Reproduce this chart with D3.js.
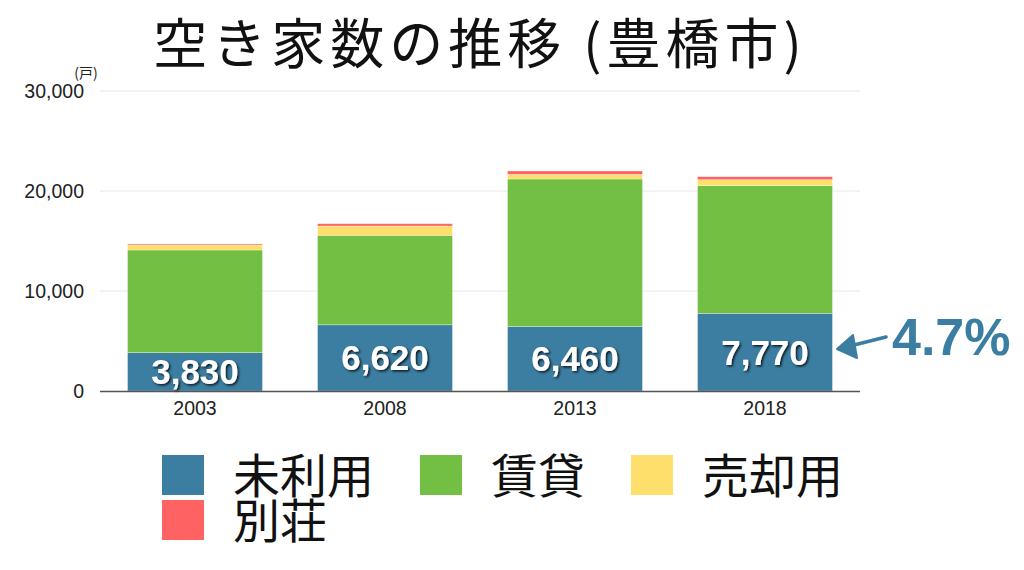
<!DOCTYPE html>
<html><head><meta charset="utf-8">
<script src="https://cdn.jsdelivr.net/npm/d3@7"></script>
<style>
body{margin:0;background:#fff;}
svg{display:block;}
</style></head><body>
<svg id="c" width="1024" height="570"></svg>
<script>
const years = ["2003","2008","2013","2018"];
const seriesNames = ["未利用","賃貸","売却用","別荘"];
const unused = [3830, 6620, 6460, 7770];
const rental = [10270, 8950, 14740, 12760];
const forSale = [500, 930, 470, 600];
const villa = [100, 230, 330, 300];
const yTicks = [0, 10000, 20000, 30000];
const colors = ["#3b7ea1","#72bf44","#ffdf6b","#ff6262"];

const svg = d3.select("#c");
const x = d3.scaleBand().domain(years).range([100,860]).paddingInner(0.29).paddingOuter(0.145);
const y = d3.scaleLinear().domain([0,30000]).range([391,91]);

const rows = years.map((yr,i)=>({year:yr, "未利用":unused[i], "賃貸":rental[i], "売却用":forSale[i], "別荘":villa[i]}));
const stack = d3.stack().keys(seriesNames)(rows);

// grid
svg.append("g").selectAll("line").data(yTicks.filter(d=>d>0)).join("line")
  .attr("x1",100).attr("x2",860).attr("y1",d=>y(d)).attr("y2",d=>y(d))
  .attr("stroke","#e6e6e6").attr("stroke-width",1);

// y labels
svg.append("g").selectAll("text").data(yTicks).join("text")
  .attr("x",84).attr("y",d=>y(d)+7).attr("text-anchor","end")
  .attr("font-family","Liberation Sans, Arial, sans-serif").attr("font-size",19.5).attr("fill","#222")
  .text(d=>d3.format(",")(d));
svg.append("text").attr("x",86).attr("y",78).attr("text-anchor","middle")
  .attr("font-family","Noto Sans CJK JP").attr("font-size",14).attr("fill","#222").text("(戸)");

// bars
svg.append("g").selectAll("g").data(stack).join("g")
  .attr("fill",(d,i)=>colors[i])
  .selectAll("rect").data(d=>d).join("rect")
  .attr("x",d=>x(d.data.year)).attr("width",x.bandwidth())
  .attr("y",d=>y(d[1])).attr("height",d=>y(d[0])-y(d[1]))
  .attr("stroke","rgba(255,255,255,0.5)").attr("stroke-width",0.6);

// baseline
svg.append("line").attr("x1",100).attr("x2",860).attr("y1",391.5).attr("y2",391.5)
  .attr("stroke","#555").attr("stroke-width",1.5);

// x labels
svg.append("g").selectAll("text").data(years).join("text")
  .attr("x",d=>x(d)+x.bandwidth()/2).attr("y",415).attr("text-anchor","middle")
  .attr("font-family","Liberation Sans, Arial, sans-serif").attr("font-size",19.5).attr("fill","#222")
  .text(d=>d);

// value labels
const defs = svg.append("defs");
const f = defs.append("filter").attr("id","sh").attr("x","-20%").attr("y","-20%").attr("width","140%").attr("height","140%");
f.append("feDropShadow").attr("dx",1.5).attr("dy",1.5).attr("stdDeviation",1).attr("flood-color","#000").attr("flood-opacity",0.8);
svg.append("g").selectAll("text").data(stack[0]).join("text")
  .attr("x",d=>x(d.data.year)+x.bandwidth()/2).attr("y",d=>(y(d[0])+y(d[1]))/2+12.5)
  .attr("text-anchor","middle").attr("font-family","Liberation Sans, Arial, sans-serif")
  .attr("font-weight","bold").attr("font-size",35).attr("fill","#fff").attr("filter","url(#sh)")
  .text(d=>d3.format(",")(d[1]-d[0]));

// title
svg.append("text").attr("x",480).attr("y",64).attr("text-anchor","middle")
  .attr("font-family","Noto Sans CJK JP").attr("font-size",54).attr("letter-spacing",5).attr("fill","#111")
  .text("空き家数の推移 (豊橋市)");

// arrow and annotation
const ag = svg.append("g").attr("stroke","#3b7ea1").attr("fill","#3b7ea1");
ag.append("line").attr("x1",886).attr("y1",337).attr("x2",850).attr("y2",346)
  .attr("stroke-width",3.5).attr("stroke-linecap","round");
ag.append("path").attr("d","M837,349 L853,335 L857,358 Z").attr("stroke-width",2).attr("stroke-linejoin","round");
svg.append("text").attr("x",892).attr("y",355).attr("font-family","Liberation Sans, Arial, sans-serif")
  .attr("font-weight","bold").attr("font-size",52).attr("fill","#3b7ea1").text("4.7%");

// legend
const legPos = [[162,455],[420,455],[631,455],[162,500]];
const lg = svg.append("g").selectAll("g").data(seriesNames).join("g")
  .attr("transform",(d,i)=>`translate(${legPos[i][0]},${legPos[i][1]})`);
lg.append("rect").attr("width",42).attr("height",40).attr("fill",(d,i)=>colors[i]);
lg.append("text").attr("x",71).attr("y",38).attr("font-family","Noto Sans CJK JP")
  .attr("font-size",47).attr("fill","#111").text(d=>d);
</script>
</body></html>
